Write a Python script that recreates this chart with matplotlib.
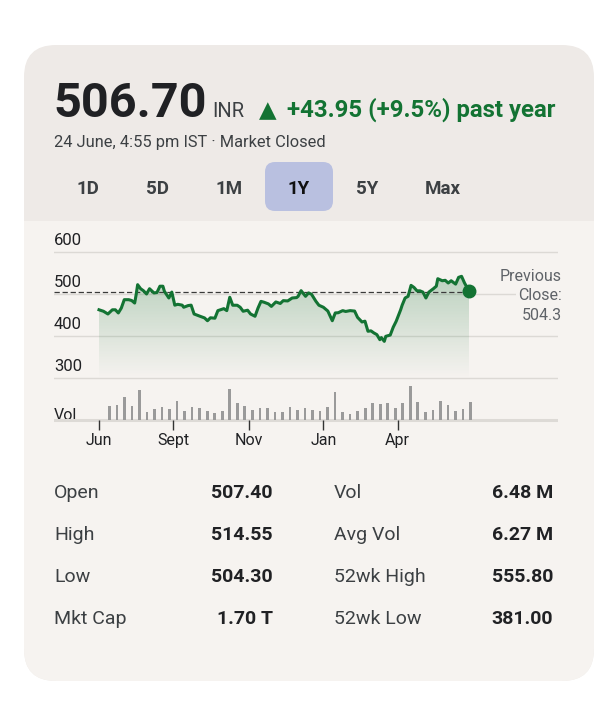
import numpy as np
import matplotlib
matplotlib.use("Agg")
import matplotlib.pyplot as plt
from matplotlib.patches import FancyBboxPatch, Rectangle
from matplotlib.colors import LinearSegmentedColormap

plt.rcParams['font.family'] = ['Roboto', 'DejaVu Sans']
plt.rcParams['lines.scale_dashes'] = False

# ---------------- data ----------------
price_days = [0, 3, 6, 9, 11, 13, 15, 17, 20, 22, 24, 25, 26, 28, 30, 32, 34, 37, 39, 41,
              43, 44, 47, 49, 51, 53, 56, 57, 60, 62, 64, 68, 71, 73, 75, 78, 80,
              84, 86, 88, 90, 93, 95, 97, 100, 102, 105, 107, 109, 111, 114, 116, 119, 122,
              124, 127, 130, 133, 134, 136, 139, 141, 143, 146, 148, 151, 154, 157, 159, 161, 164,
              166, 169, 172, 174, 177, 179, 181, 183, 185, 187, 189, 190, 192, 193, 196, 198,
              200, 203, 204, 206, 208, 210, 212, 214, 216, 218, 220, 222, 225, 227, 228, 231,
              233, 235, 237, 240, 242, 244, 246, 249]
prices = [462, 458.5, 452, 462, 462, 454.5, 466, 486, 486, 484, 478, 498, 521.6, 512, 507, 499.5, 512, 502, 503, 518,
          518, 506, 490, 504, 473, 475, 473, 468, 472, 473, 452, 446.6, 442.7, 436, 443, 442, 460,
          464.7, 460, 491.7, 472.8, 472.8, 468, 458.5, 461, 452, 446.6, 466, 482, 480, 476, 470, 480.6, 477,
          483.7, 483, 490, 491, 494, 507.4, 494, 502, 499, 482, 472.8, 468, 459, 436, 454.5, 455, 460,
          458, 460, 459, 444, 433, 435, 411, 412, 407, 403, 391, 396, 387, 399, 402, 420.6,
          434.8, 462, 472.8, 490, 494, 520, 515, 507, 507, 504, 490, 504, 512, 518, 535.8, 531,
          532, 525.6, 531, 523, 539, 541.5, 525.6, 506.7]
previous_close = 504.3

volumes = [14, 15, 23.3, 14, 30, 8.3, 10.7, 13.3, 10.7, 19,
           9.3, 13.3, 12.3, 9.3, 6.7, 9, 30.7, 16.7, 14, 10,
           11.7, 11.7, 7.7, 7.7, 13.3, 10, 11.7, 10, 9.3, 13.3,
           27.7, 7.7, 5.7, 9, 11.7, 17.3, 15.7, 16.7, 11.7, 16.7,
           34, 17.7, 7.7, 10, 19, 15, 9, 10.7, 17.7]

y_ticks = [600, 500, 400, 300]
x_tick_days = [0, 50, 101, 151, 201]
x_tick_labels = ["Jun", "Sept", "Nov", "Jan", "Apr"]

tabs = ["1D", "5D", "1M", "1Y", "5Y", "Max"]
selected_tab = "1Y"

price_text = "506.70"
currency = "INR"
change_text = "+43.95 (+9.5%) past year"
subtitle = "24 June, 4:55 pm IST \u00b7 Market Closed"

stats_left_labels = ["Open", "High", "Low", "Mkt Cap"]
stats_left_values = ["507.40", "514.55", "504.30", "1.70 T"]
stats_right_labels = ["Vol", "Avg Vol", "52wk High", "52wk Low"]
stats_right_values = ["6.48 M", "6.27 M", "555.80", "381.00"]

# ---------------- styling ----------------
W, H = 615, 703
GREEN = '#137333'
HEADER_BG = '#EEEAE7'
BODY_BG = '#F6F3F0'
GRID = '#DCD9D5'
TXT = '#202124'
TXT2 = '#3c4043'

fig = plt.figure(figsize=(W / 100, H / 100), dpi=100)
fig.patch.set_facecolor('white')
bg = fig.add_axes([0, 0, 1, 1])
bg.set_xlim(0, W)
bg.set_ylim(H, 0)
bg.axis('off')

# card
card = FancyBboxPatch((24, 45), 570, 636, boxstyle='round,pad=0,rounding_size=32',
                      fc=HEADER_BG, ec='none')
bg.add_patch(card)
body = FancyBboxPatch((24, 150), 570, 531, boxstyle='round,pad=0,rounding_size=32',
                      fc=BODY_BG, ec='none')
bg.add_patch(body)
bg.add_patch(Rectangle((24, 150), 570, 71, fc=HEADER_BG, ec='none'))

# header texts
bg.text(53, 117, price_text, fontsize=35, fontweight='bold', color=TXT, va='baseline', ha='left')
bg.text(212, 117, currency, fontsize=14.5, color=TXT2, va='baseline', ha='left')
bg.text(259, 117, "\u25b2", fontsize=16.5, color=GREEN, va='baseline', ha='left',
        family=['DejaVu Sans'])
bg.text(287, 117, change_text, fontsize=17.3, fontweight='bold', color=GREEN, va='baseline', ha='left')
bg.text(54, 147, subtitle, fontsize=11.8, color=TXT2, va='baseline', ha='left')

# tabs
tab_x = [88, 157.5, 229, 299, 367.5, 443]
for tx, t in zip(tab_x, tabs):
    if t == selected_tab:
        bg.add_patch(FancyBboxPatch((265, 162), 68, 49, boxstyle='round,pad=0,rounding_size=10',
                                    fc='#B9C0E0', ec='none'))
        c = '#111111'
    else:
        c = TXT2
    bg.text(tx, 193.5, t, fontsize=13.5, fontweight='bold', color=c, ha='center', va='baseline')

# ---------------- price chart ----------------
PX_PER_DAY = 370 / 249
X0_PX, X1_PX = 54, 558
xlim = (-(99 - X0_PX) / PX_PER_DAY, (X1_PX - 99) / PX_PER_DAY)
PX_PER_UNIT = 0.4215
TOP_PX, BOT_PX = 230, 380
y_at_top = 600 + (251.7 - TOP_PX) / PX_PER_UNIT
y_at_bot = 300 - (BOT_PX - 378) / PX_PER_UNIT

ax = fig.add_axes([X0_PX / W, 1 - BOT_PX / H, (X1_PX - X0_PX) / W, (BOT_PX - TOP_PX) / H])
ax.set_xlim(*xlim)
ax.set_ylim(y_at_bot, y_at_top)
ax.axis('off')

for v in y_ticks:
    ax.axhline(v, color=GRID, lw=1.0, zorder=0)
    ax.text(xlim[0], v + 6.7 / PX_PER_UNIT, str(v), fontsize=12, color=TXT, ha='left', va='baseline')

# gradient fill
poly = ax.fill_between(price_days, prices, 300, color='none', lw=0)
path = poly.get_paths()[0]
cmap = LinearSegmentedColormap.from_list('g', [(0.075, 0.45, 0.2, 0.0), (0.075, 0.45, 0.2, 0.26)])
grad = np.linspace(0, 1, 256).reshape(-1, 1)
im = ax.imshow(grad, extent=[price_days[0], price_days[-1], 298, max(prices)], origin='lower',
               cmap=cmap, aspect='auto', zorder=1, interpolation='bilinear')
im.set_clip_path(path, transform=ax.transData)
ax.set_xlim(*xlim)
ax.set_ylim(y_at_bot, y_at_top)

ax.plot([xlim[0], price_days[-1]], [previous_close, previous_close], color='#3a3a3a', lw=0.9,
        dashes=(3.8, 2.0), zorder=2)
ax.plot(price_days, prices, color=GREEN, lw=2.2, zorder=3, solid_joinstyle='round')
ax.plot(price_days[-1], prices[-1], 'o', color=GREEN, ms=9, zorder=4)

pc_kw = dict(fontsize=11.5, color='#5f6368', ha='right', va='baseline',
             transform=bg.transData, zorder=6, clip_on=False)
ax.text(562, 281, "Previous", **pc_kw)
ax.text(562, 300, "Close:", bbox=dict(fc=BODY_BG, ec='none', pad=1.5), **pc_kw)
ax.text(562, 319.5, f"{previous_close}", **pc_kw)

# ---------------- volume ----------------
VT, VB = 380, 432
axv = fig.add_axes([X0_PX / W, 1 - VB / H, (X1_PX - X0_PX) / W, (VB - VT) / H])
axv.set_xlim(*xlim)
axv.set_ylim(-(VB - 420), 420 - VT)
axv.axis('off')
bar_days = np.linspace(7, 250, len(volumes))
axv.axhline(0, color='#DDDAD6', lw=2.2, zorder=0)
axv.bar(bar_days, volumes, width=1.8, color='#9a9a9a', zorder=2)
axv.vlines(x_tick_days, -9.5, 0, color='#333333', lw=1.0, zorder=3)
for d, lab in zip(x_tick_days, x_tick_labels):
    axv.text(d, -25, lab, fontsize=11.5, color=TXT, ha='center', va='baseline')
bg.text(54, 420, "Vol", fontsize=11.5, color=TXT, ha='left', va='baseline')

# ---------------- stats ----------------
row_base = [498, 540, 582, 624]
for yb, l1, v1, l2, v2 in zip(row_base, stats_left_labels, stats_left_values,
                              stats_right_labels, stats_right_values):
    bg.text(54, yb, l1, fontsize=14, color=TXT2, ha='left', va='baseline')
    bg.text(273, yb, v1, fontsize=14, fontweight='bold', color=TXT, ha='right', va='baseline')
    bg.text(334, yb, l2, fontsize=14, color=TXT2, ha='left', va='baseline')
    bg.text(553, yb, v2, fontsize=14, fontweight='bold', color=TXT, ha='right', va='baseline')

fig.savefig('out.png', dpi=100, facecolor='white')
